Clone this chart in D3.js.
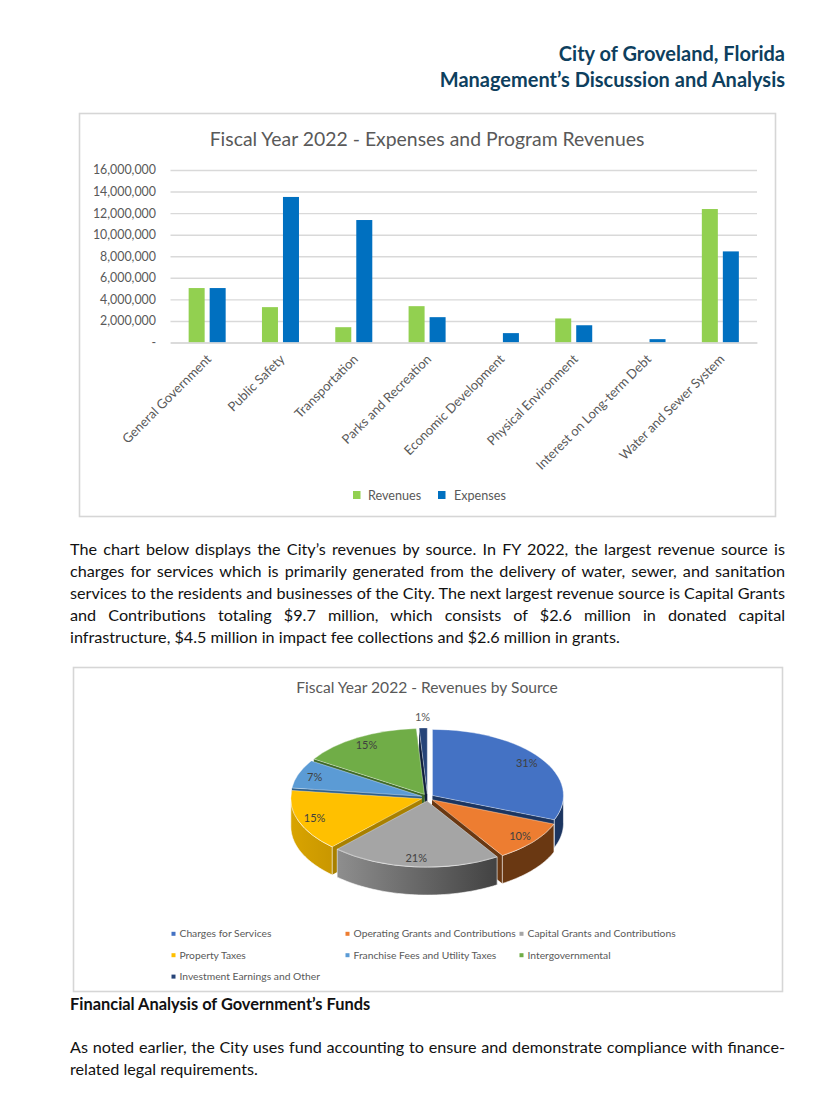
<!DOCTYPE html>
<html><head><meta charset="utf-8">
<script src="https://cdn.jsdelivr.net/npm/d3@7"></script>
<style>html,body{margin:0;padding:0;background:#fff}svg{display:block}text{font-family:Lato,"Open Sans",sans-serif}</style>
</head><body><svg id="c" width="834" height="1101"></svg>
<script>
const categories=["General Government","Public Safety","Transportation","Parks and Recreation","Economic Development","Physical Environment","Interest on Long-term Debt","Water and Sewer System"];
const revenues=[5050000,3280000,1420000,3370000,0,2230000,0,12380000];
const expenses=[5050000,13500000,11360000,2350000,870000,1600000,310000,8450000];
const yTicks=[0,2000000,4000000,6000000,8000000,10000000,12000000,14000000,16000000];
const seriesNames=["Revenues","Expenses"];
const seriesColors=["#92d050","#0070c0"];
const pieLabels=["Charges for Services","Operating Grants and Contributions","Capital Grants and Contributions","Property Taxes","Franchise Fees and Utility Taxes","Intergovernmental","Investment Earnings and Other"];
const pieValues=[31,10,21,15,7,15,1];
const pieColors=["#4472c4","#ed7d31","#a5a5a5","#ffc000","#5b9bd5","#70ad47","#264478"];
const pieWallColors=["#1c3560","#6a3812","url(#grayWall)","url(#yellowWall)","#2d5f8c","#3f6a28","#101f3c"];
const headerLines=["City of Groveland, Florida","Management\u2019s Discussion and Analysis"];
const para1=["The chart below displays the City\u2019s revenues by source. In FY 2022, the largest revenue source is","charges for services which is primarily generated from the delivery of water, sewer, and sanitation","services to the residents and businesses of the City. The next largest revenue source is Capital Grants","and Contributions totaling $9.7 million, which consists of $2.6 million in donated capital","infrastructure, $4.5 million in impact fee collections and $2.6 million in grants."];
const para2=["As noted earlier, the City uses fund accounting to ensure and demonstrate compliance with finance-","related legal requirements."];

const svg=d3.select("#c");
const GRAY="#595959", BODY="#111";
svg.append("rect").attr("width",834).attr("height",1101).attr("fill","#fff");
const defs=svg.append("defs");
function grad(id,stops){const g=defs.append("linearGradient").attr("id",id);
 stops.forEach(s=>g.append("stop").attr("offset",s[0]).attr("stop-color",s[1]));}
grad("grayWall",[[0,"#8e8e8e"],[1,"#424242"]]);
grad("yellowWall",[[0,"#d9a400"],[1,"#c99700"]]);

// header
svg.selectAll(".hd").data(headerLines).join("text").attr("class","hd")
 .attr("x",785).attr("y",(d,i)=>61+i*26).attr("text-anchor","end")
 .attr("font-size",20).attr("font-weight",700).attr("fill","#0e3f5e").text(d=>d);

// justified text block
function block(lines,y0,lh,justifiedCount){
 lines.forEach((t,i)=>{
  const el=svg.append("text").attr("x",70).attr("y",y0+i*lh).attr("font-size",16.2).attr("fill",BODY).text(t);
  if(i<justifiedCount){
   const w=el.node().getComputedTextLength();
   const gaps=t.split(" ").length-1;
   el.attr("word-spacing",(715-w)/gaps);
  }
 });
}
block(para1,554.5,22,4);
block(para2,1052.5,22,1);
svg.append("text").attr("x",70).attr("y",1010).attr("font-size",16.4).attr("font-weight",700).attr("fill",BODY).text("Financial Analysis of Government\u2019s Funds");

// ---------- bar chart
svg.append("rect").attr("x",79.5).attr("y",113.5).attr("width",696).attr("height",403).attr("fill","#fff").attr("stroke","#d6d6d6").attr("stroke-width",1.6);
svg.append("text").attr("x",427).attr("y",146).attr("text-anchor","middle").attr("font-size",19.4).attr("fill",GRAY).text("Fiscal Year 2022 - Expenses and Program Revenues");
const x=d3.scaleBand().domain(categories).range([170.5,757]);
const y=d3.scaleLinear().domain([0,16000000]).range([342.5,170]);
const yAxis=d3.axisLeft(y).tickValues(yTicks).tickSize(0).tickPadding(14.5).tickFormat(d=>d===0?"-":d3.format(",")(d));
const gy=svg.append("g").attr("transform","translate(170.5,0)").call(yAxis);
gy.select(".domain").remove();
gy.selectAll("text").attr("font-size",12.4).attr("fill",GRAY).style("font-family","Lato");
gy.selectAll("line").attr("x2",586.5).attr("stroke","#d9d9d9").attr("stroke-width",1.4);
const inner=d3.scaleBand().domain(seriesNames).range([0,x.bandwidth()]).paddingInner(0.238).paddingOuter(0.864);
[revenues,expenses].forEach((vals,si)=>{
 svg.append("g").selectAll("rect").data(vals).join("rect")
  .attr("x",(d,i)=>x(categories[i])+inner(seriesNames[si]))
  .attr("width",inner.bandwidth())
  .attr("y",d=>y(d)).attr("height",d=>y(0)-y(d)).attr("fill",seriesColors[si]);
});
const xAxis=d3.axisBottom(x).tickSize(0);
const gx=svg.append("g").attr("transform","translate(0,342.5)").call(xAxis);
gx.select(".domain").attr("stroke","#d9d9d9").attr("stroke-width",1.4);
gx.selectAll("text").attr("text-anchor","end").attr("font-size",13).attr("fill",GRAY)
 .attr("y",0).attr("dy",0).attr("transform","translate(5,17.5) rotate(-45)");
const lg=[[353,368],[438,454]];
seriesNames.forEach((n,i)=>{
 svg.append("rect").attr("x",lg[i][0]).attr("y",491).attr("width",7.5).attr("height",8).attr("fill",seriesColors[i]);
 svg.append("text").attr("x",lg[i][1]).attr("y",499.5).attr("font-size",12.6).attr("fill",GRAY).text(n);
});

// ---------- pie chart
svg.append("rect").attr("x",73.5).attr("y",667.5).attr("width",709).attr("height",324).attr("fill","#fff").attr("stroke","#d6d6d6").attr("stroke-width",1.6);
svg.append("text").attr("x",427).attr("y",693).attr("text-anchor","middle").attr("font-size",15.6).attr("fill",GRAY).text("Fiscal Year 2022 - Revenues by Source");
const cx=427.5, cy=797.5, rx=131, ry=66, depth=28, explode=6;
const arcs=d3.pie().sort(null).value(d=>d)(pieValues);
const arcGen=d3.arc().innerRadius(0).outerRadius(rx);
const px=a=>rx*Math.sin(a), py=a=>-ry*Math.cos(a);
const mid=d=>(d.startAngle+d.endAngle)/2;
const off=d=>[explode*Math.sin(mid(d)),-explode*0.6*Math.cos(mid(d))];
const line=d3.line();
const order=arcs.map((d,i)=>i).sort((a,b)=>-Math.cos(mid(arcs[a]))+Math.cos(mid(arcs[b])));
const pieG=svg.append("g").attr("transform",`translate(${cx},${cy})`);
order.forEach(i=>{
 const d=arcs[i], o=off(d);
 const g=pieG.append("g").attr("transform",`translate(${o[0]},${o[1]})`);
 [d.startAngle,d.endAngle].forEach(a=>{
  g.append("path").attr("d",line([[0,0],[px(a),py(a)],[px(a),py(a)+depth],[0,depth]])+"Z").attr("fill",pieWallColors[i]==="url(#grayWall)"?"#555":pieWallColors[i]==="url(#yellowWall)"?"#a88000":pieWallColors[i]);
 });
 const lo=Math.max(d.startAngle,Math.PI/2), hi=Math.min(d.endAngle,Math.PI*1.5);
 if(hi>lo){
  const angs=d3.range(0,41).map(k=>lo+(hi-lo)*k/40);
  const pts=angs.map(a=>[px(a),py(a)]).concat(angs.slice().reverse().map(a=>[px(a),py(a)+depth]));
  g.append("path").attr("d",line(pts)+"Z").attr("fill",pieWallColors[i]).attr("stroke","#fff").attr("stroke-width",0.6);
 }
 g.append("path").attr("d",arcGen(d)).attr("transform",`scale(1,${ry/rx})`).attr("fill",pieColors[i]).attr("stroke","#fff").attr("stroke-width",0.5);
});
arcs.forEach(d=>{
 const o=off(d), k=d.data<2?1.17:0.87;
 pieG.append("text").attr("x",px(mid(d))*k+o[0]).attr("y",py(mid(d))*k+o[1]+4)
  .attr("text-anchor","middle").attr("font-size",11).attr("fill",d.data<2?GRAY:"#404040").text(d.data+"%");
});
const rowY=d3.scalePoint().domain([0,1,2]).range([933.8,976.6]);
pieLabels.forEach((n,i)=>{
 const c=i%3, r=Math.floor(i/3);
 const lx=[171.5,345.5,519.5][c];
 svg.append("rect").attr("x",lx).attr("y",rowY(r)-2).attr("width",4).attr("height",4).attr("fill",pieColors[i]);
 svg.append("text").attr("x",lx+8).attr("y",rowY(r)+3.6).attr("font-size",10.3).attr("fill",GRAY).text(n);
});
</script></body></html>
